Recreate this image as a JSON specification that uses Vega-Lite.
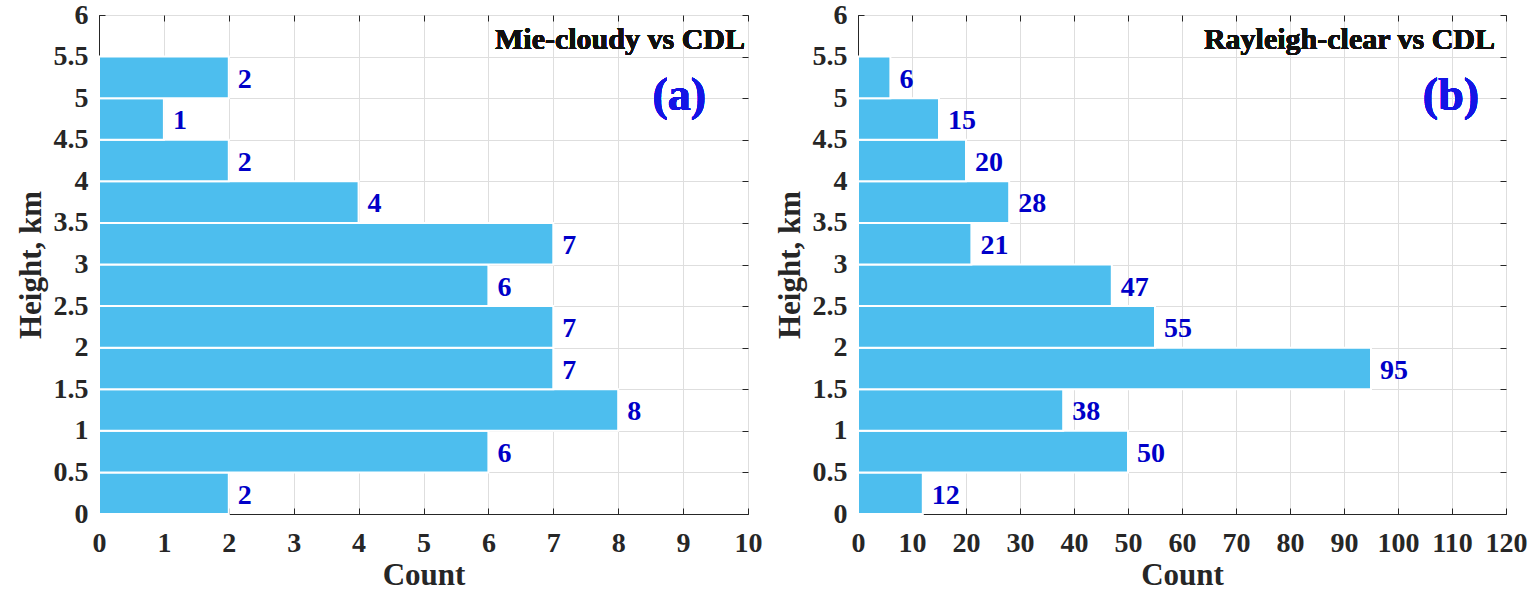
{
  "$schema": "https://vega.github.io/schema/vega-lite/v6.json",
  "padding": {"left": 14, "top": 0, "right": 0, "bottom": 0},
  "background": "white",
  "datasets": {
    "mie": [
      {"lo": 0, "hi": 0.5, "count": 2},
      {"lo": 0.5, "hi": 1, "count": 6},
      {"lo": 1, "hi": 1.5, "count": 8},
      {"lo": 1.5, "hi": 2, "count": 7},
      {"lo": 2, "hi": 2.5, "count": 7},
      {"lo": 2.5, "hi": 3, "count": 6},
      {"lo": 3, "hi": 3.5, "count": 7},
      {"lo": 3.5, "hi": 4, "count": 4},
      {"lo": 4, "hi": 4.5, "count": 2},
      {"lo": 4.5, "hi": 5, "count": 1},
      {"lo": 5, "hi": 5.5, "count": 2}
    ],
    "ray": [
      {"lo": 0, "hi": 0.5, "count": 12},
      {"lo": 0.5, "hi": 1, "count": 50},
      {"lo": 1, "hi": 1.5, "count": 38},
      {"lo": 1.5, "hi": 2, "count": 95},
      {"lo": 2, "hi": 2.5, "count": 55},
      {"lo": 2.5, "hi": 3, "count": 47},
      {"lo": 3, "hi": 3.5, "count": 21},
      {"lo": 3.5, "hi": 4, "count": 28},
      {"lo": 4, "hi": 4.5, "count": 20},
      {"lo": 4.5, "hi": 5, "count": 15},
      {"lo": 5, "hi": 5.5, "count": 6}
    ]
  },
  "config": {
    "font": "Liberation Serif",
    "view": {"stroke": "#262626", "strokeWidth": 1},
    "concat": {"spacing": 110},
    "axis": {
      "labelFont": "Liberation Serif",
      "labelFontWeight": "bold",
      "labelFontSize": 28,
      "labelColor": "#262626",
      "labelOverlap": false,
      "labelFlush": false,
      "titleFont": "Liberation Serif",
      "titleFontWeight": "bold",
      "titleFontSize": 31,
      "titleColor": "#262626",
      "domainColor": "#262626",
      "tickColor": "#262626",
      "tickSize": -6,
      "gridColor": "#dedede",
      "gridWidth": 1,
      "format": "~r"
    },
    "axisX": {"labelPadding": 21, "titlePadding": 3},
    "axisY": {"labelPadding": 17, "titlePadding": 6}
  },
  "hconcat": [
    {
      "width": 649,
      "height": 499,
      "data": {"name": "mie"},
      "layer": [
        {
          "mark": {"type": "rect", "color": "#4DBEEE", "stroke": "white", "strokeWidth": 2},
          "encoding": {
            "y": {"field": "lo", "type": "quantitative", "scale": {"domain": [0, 6], "nice": false}, "axis": {"values": [0,0.5,1,1.5,2,2.5,3,3.5,4,4.5,5,5.5,6], "title": "Height, km"}},
            "y2": {"field": "hi"},
            "x": {"field": "count", "type": "quantitative", "scale": {"domain": [0, 10], "nice": false}, "axis": {"values": [0,1,2,3,4,5,6,7,8,9,10], "title": "Count"}},
            "x2": {"datum": 0}
          }
        },
        {
          "mark": {"type": "text", "align": "left", "baseline": "middle", "dx": 9, "dy": -18.5, "fontSize": 28, "fontWeight": "bold", "color": "#0000C8"},
          "encoding": {
            "y": {"field": "lo", "type": "quantitative", "axis": {"orient": "right", "values": [0,0.5,1,1.5,2,2.5,3,3.5,4,4.5,5,5.5,6], "labels": false, "grid": false, "domain": false, "title": null}},
            "x": {"field": "count", "type": "quantitative", "axis": {"orient": "top", "values": [0,1,2,3,4,5,6,7,8,9,10], "labels": false, "grid": false, "domain": false, "title": null}},
            "text": {"field": "count"}
          }
        },
        {
          "mark": {"type": "text", "align": "right", "baseline": "middle", "dx": -3, "fontSize": 30, "fontWeight": "bold", "color": "#111111"},
          "encoding": {
            "x": {"datum": 10, "type": "quantitative", "axis": null},
            "y": {"datum": 5.7, "type": "quantitative", "axis": null},
            "text": {"value": "Mie-cloudy vs CDL"}
          }
        },
        {
          "mark": {"type": "text", "align": "center", "baseline": "middle", "fontSize": 46, "fontWeight": "bold", "color": "#1414E6"},
          "encoding": {
            "x": {"datum": 8.94, "type": "quantitative", "axis": null},
            "y": {"datum": 5.03, "type": "quantitative", "axis": null},
            "text": {"value": "(a)"}
          }
        }
      ],
      "resolve": {"axis": {"x": "independent", "y": "independent"}}
    },
    {
      "width": 648,
      "height": 499,
      "data": {"name": "ray"},
      "layer": [
        {
          "mark": {"type": "rect", "color": "#4DBEEE", "stroke": "white", "strokeWidth": 2},
          "encoding": {
            "y": {"field": "lo", "type": "quantitative", "scale": {"domain": [0, 6], "nice": false}, "axis": {"values": [0,0.5,1,1.5,2,2.5,3,3.5,4,4.5,5,5.5,6], "title": "Height, km"}},
            "y2": {"field": "hi"},
            "x": {"field": "count", "type": "quantitative", "scale": {"domain": [0, 120], "nice": false}, "axis": {"values": [0,10,20,30,40,50,60,70,80,90,100,110,120], "title": "Count"}},
            "x2": {"datum": 0}
          }
        },
        {
          "mark": {"type": "text", "align": "left", "baseline": "middle", "dx": 9, "dy": -18.5, "fontSize": 28, "fontWeight": "bold", "color": "#0000C8"},
          "encoding": {
            "y": {"field": "lo", "type": "quantitative", "axis": {"orient": "right", "values": [0,0.5,1,1.5,2,2.5,3,3.5,4,4.5,5,5.5,6], "labels": false, "grid": false, "domain": false, "title": null}},
            "x": {"field": "count", "type": "quantitative", "axis": {"orient": "top", "values": [0,10,20,30,40,50,60,70,80,90,100,110,120], "labels": false, "grid": false, "domain": false, "title": null}},
            "text": {"field": "count"}
          }
        },
        {
          "mark": {"type": "text", "align": "right", "baseline": "middle", "dx": -11, "fontSize": 30, "fontWeight": "bold", "color": "#111111"},
          "encoding": {
            "x": {"datum": 120, "type": "quantitative", "axis": null},
            "y": {"datum": 5.7, "type": "quantitative", "axis": null},
            "text": {"value": "Rayleigh-clear vs CDL"}
          }
        },
        {
          "mark": {"type": "text", "align": "center", "baseline": "middle", "fontSize": 46, "fontWeight": "bold", "color": "#1414E6"},
          "encoding": {
            "x": {"datum": 109.8, "type": "quantitative", "axis": null},
            "y": {"datum": 5.03, "type": "quantitative", "axis": null},
            "text": {"value": "(b)"}
          }
        }
      ],
      "resolve": {"axis": {"x": "independent", "y": "independent"}}
    }
  ],
  "resolve": {"scale": {"x": "independent", "y": "independent"}, "axis": {"x": "independent", "y": "independent"}},
  "bounds": "flush"
}
